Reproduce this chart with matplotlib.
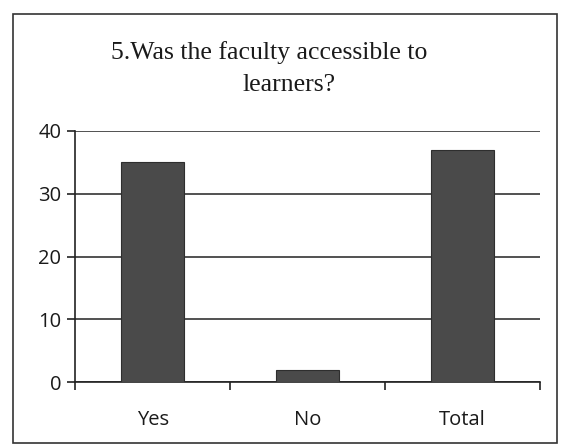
import numpy as np
import matplotlib.pyplot as plt
from matplotlib.patches import Rectangle

categories = ['Yes', 'No', 'Total']
counts = [35, 2, 37]
yticks = [0, 10, 20, 30, 40]
title_lines = ['5.Was the faculty accessible to', 'learners?']

fig = plt.figure(figsize=(5.65, 4.47), dpi=100)
ax = fig.add_axes([0.133, 0.145, 0.823, 0.562])

x = np.arange(len(categories))
ax.bar(x, counts, width=0.41, color='#4a4a4a', edgecolor='#2e2e2e', linewidth=0.8, zorder=3)

ax.set_xlim(-0.5, len(categories) - 0.5)
ax.set_ylim(0, 40)
ax.set_yticks(yticks)
ax.set_xticks(x)
ax.set_xticklabels(categories)
ax.set_xticks(np.arange(len(categories) + 1) - 0.5, minor=True)
ax.tick_params(axis='x', which='major', length=0, pad=20)
ax.tick_params(axis='x', which='minor', length=6, width=1.2, color='#222222', direction='out')
ax.tick_params(axis='y', length=6, width=1.2, color='#222222', direction='out', pad=4)
for lab in ax.get_xticklabels() + ax.get_yticklabels():
    lab.set_fontfamily('Open Sans')
    lab.set_fontsize(14.5)
    lab.set_fontweight('medium')
    lab.set_color('#1a1a1a')

ax.grid(axis='y', color='#333333', linewidth=1.2, zorder=0)
ax.spines['top'].set_visible(False)
ax.spines['right'].set_visible(False)
ax.spines['left'].set_linewidth(1.2)
ax.spines['bottom'].set_linewidth(1.2)
ax.spines['left'].set_color('#222222')
ax.spines['bottom'].set_color('#222222')

# title: first line sits a bit left (trailing space in the original)
fig.text(0.476, 0.882, title_lines[0], ha='center', va='center',
         fontsize=18.5, family='Liberation Serif', color='#1a1a1a')
fig.text(0.511, 0.81, title_lines[1], ha='center', va='center',
         fontsize=18.5, family='Liberation Serif', color='#1a1a1a')

fig.patches.append(Rectangle((0.023, 0.009), 0.963, 0.96, transform=fig.transFigure,
                             fill=False, edgecolor='#333333', linewidth=1.2))

fig.savefig('out.png', dpi=100)
